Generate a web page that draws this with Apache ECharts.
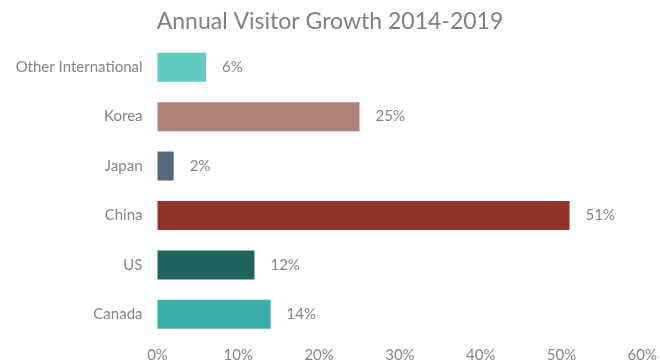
<!DOCTYPE html>
<html>
<head>
<meta charset="utf-8">
<script src="https://cdn.jsdelivr.net/npm/echarts@6/dist/echarts.min.js"></script>
<style>
  html, body { margin: 0; padding: 0; background: #fff; }
  #chart { width: 660px; height: 364px; }
</style>
</head>
<body>
<div id="chart"></div>
<script>
// Visitor growth by market, listed top to bottom
const markets = ['Other International', 'Korea', 'Japan', 'China', 'US', 'Canada'];
const growth = [6, 25, 2, 51, 12, 14];
const barColors = ['#62C9C1', '#AF817B', '#56697C', '#913329', '#1F625E', '#3AADA8'];
const xTicks = [0, 10, 20, 30, 40, 50, 60];

const fontFamily = 'Lato, "Noto Sans", sans-serif';
const textGray = '#858585';

const chart = echarts.init(document.getElementById('chart'), null, { renderer: 'canvas' });
chart.setOption({
  animation: false,
  title: {
    text: 'Annual Visitor Growth 2014-2019',
    left: 'center',
    top: 5,
    textStyle: { color: '#808080', fontSize: 23, fontWeight: 'normal', fontFamily: fontFamily }
  },
  grid: { left: 157.5, right: 16, top: 42.5, bottom: 25, containLabel: false },
  xAxis: {
    type: 'value',
    min: xTicks[0],
    max: xTicks[xTicks.length - 1],
    interval: 10,
    axisLine: { show: false },
    axisTick: { show: false },
    splitLine: { show: false },
    axisLabel: {
      margin: 9,
      color: textGray,
      fontSize: 15,
      fontFamily: fontFamily,
      formatter: v => v + '%'
    }
  },
  yAxis: {
    type: 'category',
    data: markets,
    inverse: true,
    axisLine: { show: false },
    axisTick: { show: false },
    axisLabel: { margin: 15, color: textGray, fontSize: 15, fontFamily: fontFamily }
  },
  series: [{
    type: 'bar',
    barWidth: 29,
    data: growth.map((v, i) => ({ value: v, itemStyle: { color: barColors[i] } })),
    label: {
      show: true,
      position: 'right',
      distance: 16,
      color: textGray,
      fontSize: 15,
      fontFamily: fontFamily,
      formatter: p => p.value + '%'
    }
  }]
});
</script>
</body>
</html>
